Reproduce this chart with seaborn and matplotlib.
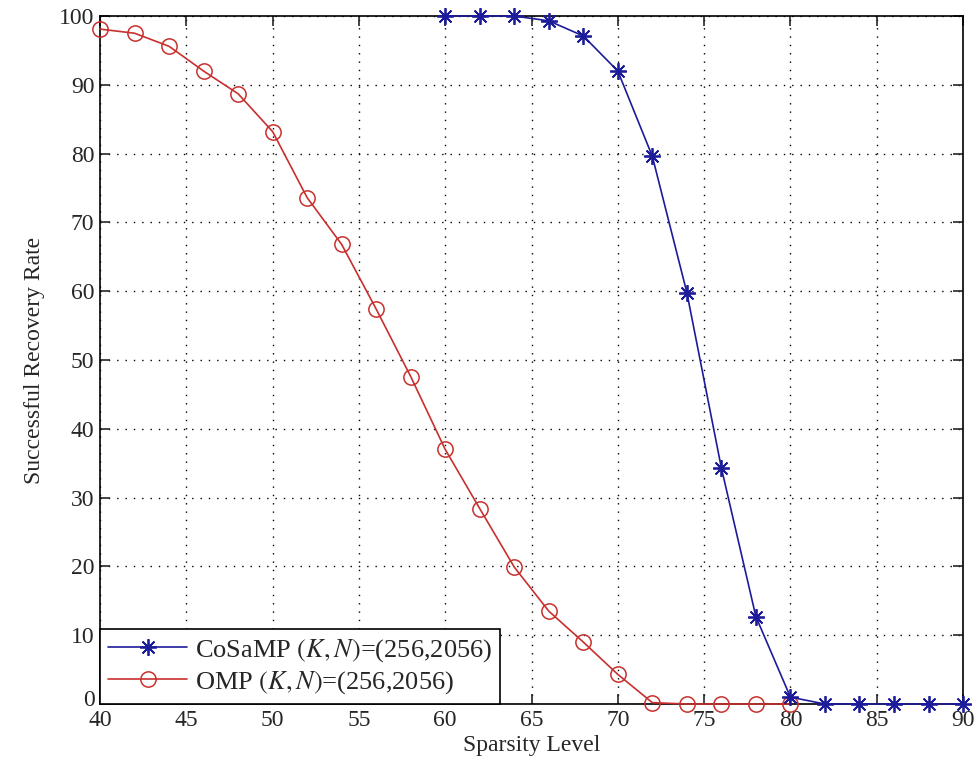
import numpy as np
import pandas as pd
import seaborn as sns
import matplotlib.pyplot as plt
import matplotlib.transforms as mtransforms

# Dados
cosamp_x = [60, 62, 64, 66, 68, 70, 72, 74, 76, 78, 80, 82, 84, 86, 88, 90]
cosamp_y = [100, 100, 100, 99.3, 97.1, 92.0, 79.6, 59.8, 34.3, 12.7, 1.0, 0, 0, 0, 0, 0]

omp_x = [40, 42, 44, 46, 48, 50, 52, 54, 56, 58, 60, 62, 64, 66, 68, 70, 72, 74, 76, 78, 80]
omp_y = [98.1, 97.5, 95.6, 92.0, 88.7, 83.2, 73.6, 66.8, 57.4, 47.6, 37.0, 28.4, 19.9,
         13.5, 9.0, 4.3, 0.2, 0, 0, 0, 0]

label_cosamp = r"CoSaMP $(K,N)$=(256,2056)"
label_omp = r"OMP $(K,N)$=(256,2056)"

xticks = list(range(40, 91, 5))
yticks = list(range(0, 101, 10))

sns.set_style("ticks")
plt.rcParams["font.family"] = ["Liberation Serif", "DejaVu Serif"]
plt.rcParams["mathtext.fontset"] = "stix"

df_cosamp = pd.DataFrame({"x": cosamp_x, "y": cosamp_y})
df_omp = pd.DataFrame({"x": omp_x, "y": omp_y})

fig = plt.figure(figsize=(9.76, 7.78), dpi=100)
ax = fig.add_axes([0.1025, 0.0951, 0.8842, 0.8843])

sns.lineplot(data=df_cosamp, x="x", y="y", ax=ax, color="#1c1c9a", linewidth=1.2,
             marker=(8, 2, 0), markersize=12, markeredgewidth=1.3,
             markeredgecolor="#1c1c9a", label=label_cosamp, clip_on=False, zorder=4)
sns.lineplot(data=df_omp, x="x", y="y", ax=ax, color="#c8302e", linewidth=1.2,
             marker="o", markersize=11, markerfacecolor="none", markeredgewidth=1.1,
             markeredgecolor="#c8302e", label=label_omp, clip_on=False, zorder=3)

ax.set_xlim(40, 90)
ax.set_ylim(0, 100)
ax.set_xticks(xticks)
ax.set_yticks(yticks)
ax.tick_params(direction="in", top=True, right=True, length=7, width=1.2,
               labelsize=17, pad=4)
ax.grid(True, linestyle=(0, (1, 5)), color="black", linewidth=1.0)
for s in ax.spines.values():
    s.set_linewidth(1.2)
    s.set_color("black")

# subir um pouco o rótulo "0" do eixo y
lbl0 = ax.get_yticklabels()[0]
lbl0.set_transform(lbl0.get_transform() +
                   mtransforms.ScaledTranslation(0, 6 / 100, fig.dpi_scale_trans))

ax.set_xlabel("Sparsity Level", fontsize=17, labelpad=3)
ax.set_ylabel("Successful Recovery Rate", fontsize=17, labelpad=10)

leg = ax.legend(loc="lower left", fontsize=19, fancybox=False, framealpha=1,
                edgecolor="black", borderaxespad=0, handlelength=3.0,
                handletextpad=0.3, borderpad=0.3, labelspacing=0.2)
leg.get_frame().set_linewidth(1.2)
leg.set_zorder(10)

fig.savefig("out.png", dpi=100)
